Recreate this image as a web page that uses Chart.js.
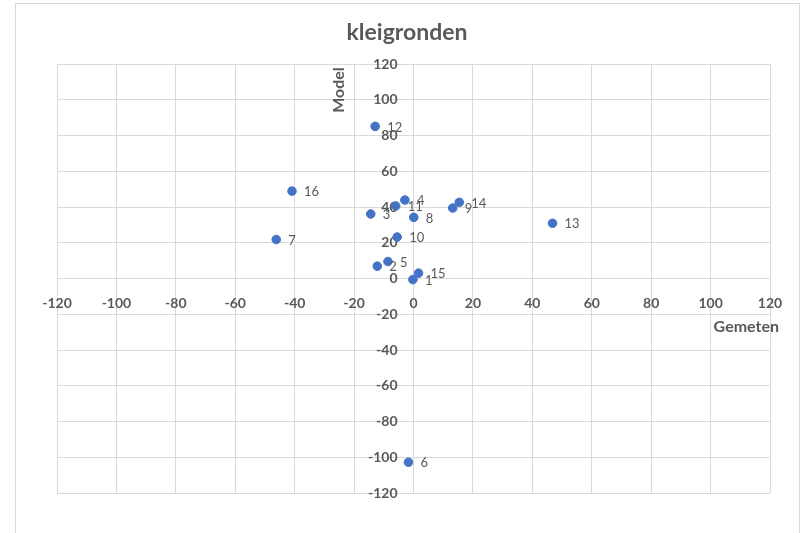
<!DOCTYPE html>
<html>
<head>
<meta charset="utf-8">
<script src="https://cdn.jsdelivr.net/npm/chart.js@4"></script>
<style>
    body { margin: 0; background: #fff; }
    #chart { display: block; }
</style>
</head>
<body>
<canvas id="chart" width="801" height="533"></canvas>
<script>
const chartTitle = 'kleigronden';
const xTitle = 'Gemeten';
const yTitle = 'Model';

const pointLabels = ['1', '2', '3', '4', '5', '6', '7', '8', '9', '10', '11', '12', '13', '14', '15', '16'];
const measured = [-0.2, -12.2, -14.4, -2.9, -8.6, -1.7, -46.2, 0.1, 13.2, -5.5, -6.0, -12.9, 46.8, 15.4, 1.7, -40.9];
const modelled = [-0.6, 6.9, 36.1, 43.9, 9.5, -102.8, 21.8, 34.2, 39.4, 23.2, 40.6, 85.1, 30.9, 42.6, 3.0, 48.9];

const axisMin = -120;
const axisMax = 120;
const axisStep = 20;

const textColor = '#595959';
const gridColor = '#d9d9d9';

const points = measured.map((x, i) => ({ x: x, y: modelled[i] }));

// chart.js puts y labels right against a value-positioned axis,
// so hang that axis a little left of zero (the x=0 gridline is the visible line)
const yLabelGap = 16 * (axisMax - axisMin) / 713;

// frame round the whole chart, title and axis titles
const decorations = {
    id: 'decorations',
    beforeDraw(chart) {
        const ctx = chart.ctx;
        ctx.save();
        ctx.strokeStyle = gridColor;
        ctx.lineWidth = 1;
        ctx.strokeRect(15.5, 3.5, 784, 560);
        ctx.restore();
    },
    afterDraw(chart) {
        const ctx = chart.ctx;
        ctx.save();
        ctx.fillStyle = textColor;
        ctx.textBaseline = 'middle';

        ctx.font = 'bold 23px Lato';
        ctx.textAlign = 'center';
        ctx.fillText(chartTitle, 407, 33);

        ctx.font = 'bold 16px Lato';
        ctx.textAlign = 'right';
        ctx.fillText(xTitle, 779, 327);

        ctx.translate(339, 90);
        ctx.rotate(-Math.PI / 2);
        ctx.textAlign = 'center';
        ctx.fillText(yTitle, 0, 0);
        ctx.restore();
    }
};

// point numbers next to each marker
const numberLabels = {
    id: 'numberLabels',
    afterDatasetsDraw(chart) {
        const ctx = chart.ctx;
        const meta = chart.getDatasetMeta(0);
        ctx.save();
        ctx.fillStyle = textColor;
        ctx.font = '13px Lato';
        ctx.textAlign = 'left';
        ctx.textBaseline = 'middle';
        meta.data.forEach((pt, i) => {
            ctx.fillText(pointLabels[i], pt.x + 12, pt.y + 1);
        });
        ctx.restore();
    }
};

const ctx = document.getElementById('chart').getContext('2d');
new Chart(ctx, {
    type: 'scatter',
    data: {
        datasets: [{
            label: 'Model',
            data: points,
            backgroundColor: '#4472c4',
            borderColor: '#4472c4',
            pointRadius: 4.3,
            pointHoverRadius: 4.3
        }]
    },
    options: {
        responsive: false,
        animation: false,
        layout: {
            padding: { left: 57, top: 64, right: 31, bottom: 40 }
        },
        plugins: {
            legend: { display: false },
            tooltip: { enabled: false }
        },
        scales: {
            x: {
                type: 'linear',
                min: axisMin,
                max: axisMax,
                position: { y: 0 },
                grid: { color: gridColor, drawTicks: false },
                border: { color: gridColor },
                ticks: {
                    stepSize: axisStep,
                    padding: 17,
                    maxRotation: 0,
                    color: textColor,
                    font: { family: 'Lato', size: 14, weight: 'bold' }
                }
            },
            y: {
                type: 'linear',
                min: axisMin,
                max: axisMax,
                position: { x: -yLabelGap },
                grid: { color: gridColor, drawTicks: false },
                border: { display: false },
                ticks: {
                    stepSize: axisStep,
                    color: textColor,
                    font: { family: 'Lato', size: 14, weight: 'bold' }
                }
            }
        }
    },
    plugins: [decorations, numberLabels]
});
</script>
</body>
</html>
